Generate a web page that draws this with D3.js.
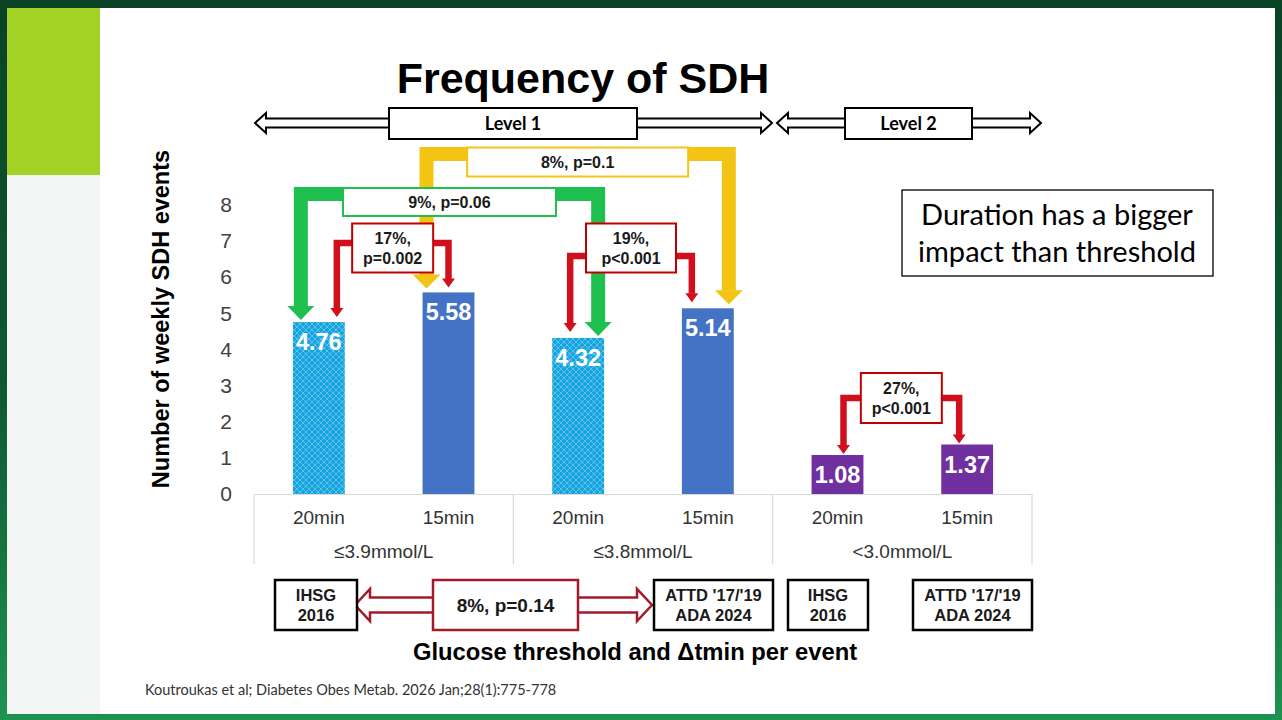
<!DOCTYPE html>
<html>
<head>
<meta charset="utf-8">
<script src="https://cdn.jsdelivr.net/npm/d3@7"></script>
<style>
  body { margin: 0; background: #fff; overflow: hidden; }
  svg { display: block; }
</style>
</head>
<body>
<svg id="chart" width="1282" height="720"></svg>
<script>
// data
var durations = ['20min', '15min', '20min', '15min', '20min', '15min'];
var thresholds = ['≤3.9mmol/L', '≤3.8mmol/L', '<3.0mmol/L'];
var sdhEvents = [4.76, 5.58, 4.32, 5.14, 1.08, 1.37];
var yTicks = [0, 1, 2, 3, 4, 5, 6, 7, 8];
var levels = ['Level 1', 'Level 2'];
var definitions = [['IHSG', '2016'], ['ATTD \'17/\'19', 'ADA 2024'], ['IHSG', '2016'], ['ATTD \'17/\'19', 'ADA 2024']];
var compareFrom = [1, 0, 0, 2, 4];
var compareTo = [3, 2, 1, 3, 5];
var compareText = [['8%, p=0.1'], ['9%, p=0.06'], ['17%,', 'p=0.002'], ['19%,', 'p<0.001'], ['27%,', 'p<0.001']];
var definitionCompare = ['8%, p=0.14'];

var W = 1282, H = 720;
var svg = d3.select('#chart');
var defs = svg.append('defs');
var sans = 'Arial, "Liberation Sans", Helvetica, sans-serif';
var calibri = 'Lato, "Open Sans", sans-serif';

// slide frame
var grad = defs.append('linearGradient').attr('id', 'frame')
    .attr('x1', 0).attr('y1', 0).attr('x2', 0).attr('y2', 1);
grad.append('stop').attr('offset', '0%').attr('stop-color', '#0a4326');
grad.append('stop').attr('offset', '55%').attr('stop-color', '#0f5a31');
grad.append('stop').attr('offset', '100%').attr('stop-color', '#1e9250');

svg.append('rect').attr('width', W).attr('height', H).attr('fill', 'url(#frame)');
svg.append('rect').attr('x', 7).attr('y', 8).attr('width', 1268).attr('height', 706).attr('fill', '#ffffff');
svg.append('rect').attr('x', 7).attr('y', 175).attr('width', 93).attr('height', 539).attr('fill', '#f3f6f5');
svg.append('rect').attr('x', 7).attr('y', 8).attr('width', 93).attr('height', 167).attr('fill', '#a4d126');

var hatch = defs.append('pattern').attr('id', 'hatch')
    .attr('patternUnits', 'userSpaceOnUse').attr('width', 6).attr('height', 6);
hatch.append('rect').attr('width', 6).attr('height', 6).attr('fill', '#17a4de');
hatch.append('path').attr('d', 'M0,0L6,6M6,0L0,6')
    .attr('stroke', '#62c6ee').attr('stroke-width', 0.9);

// scales
var x = d3.scaleBand().domain(d3.range(sdhEvents.length))
    .range([254, 1032]).paddingInner(0.6).paddingOuter(0.3);
var group = d3.scaleBand().domain(thresholds).range([254, 1032]);
var y = d3.scaleLinear().domain([0, 8]).range([494, 205]);

function cx(i) { return x(i) + x.bandwidth() / 2; }
function barFill(i) {
    if (i >= 4) return '#7030a0';
    return durations[i] === '20min' ? 'url(#hatch)' : '#4472c4';
}

// title
svg.append('text').attr('x', 583).attr('y', 93)
    .attr('text-anchor', 'middle').attr('font-family', sans)
    .attr('font-weight', 'bold').attr('font-size', 43).attr('fill', '#000')
    .text('Frequency of SDH');

// level double arrows
function dblArrow(x0, x1, c, sh, hh, hl) {
    return 'M' + x0 + ',' + c +
        'L' + (x0 + hl) + ',' + (c - hh) + 'L' + (x0 + hl) + ',' + (c - sh) +
        'L' + (x1 - hl) + ',' + (c - sh) + 'L' + (x1 - hl) + ',' + (c - hh) +
        'L' + x1 + ',' + c +
        'L' + (x1 - hl) + ',' + (c + hh) + 'L' + (x1 - hl) + ',' + (c + sh) +
        'L' + (x0 + hl) + ',' + (c + sh) + 'L' + (x0 + hl) + ',' + (c + hh) + 'Z';
}

var levelSpan = [[255, 772, 389, 637], [777, 1041, 845, 972]];
levels.forEach(function(name, k) {
    var s = levelSpan[k];
    svg.append('path').attr('d', dblArrow(s[0], s[1], 123, 4.5, 10, 11))
        .attr('fill', '#fff').attr('stroke', '#000').attr('stroke-width', 2);
    svg.append('rect').attr('x', s[2]).attr('y', 108).attr('width', s[3] - s[2]).attr('height', 31)
        .attr('fill', '#fff').attr('stroke', '#000').attr('stroke-width', 2);
    svg.append('text').attr('x', (s[2] + s[3]) / 2).attr('y', 130)
        .attr('text-anchor', 'middle').attr('font-family', calibri)
        .attr('font-weight', 'bold').attr('font-size', 18).text(name);
});

// y axis
var yAxis = svg.append('g').attr('transform', 'translate(240,0)')
    .call(d3.axisLeft(y).tickValues(yTicks).tickSize(0).tickPadding(8));
yAxis.select('.domain').remove();
yAxis.selectAll('text').attr('font-family', sans).attr('font-size', 21).attr('fill', '#404040');

svg.append('text')
    .attr('transform', 'translate(169,319) rotate(-90)')
    .attr('text-anchor', 'middle').attr('font-family', sans)
    .attr('font-weight', 'bold').attr('font-size', 23.5).attr('fill', '#000')
    .text('Number of weekly SDH events');

// category axis
var xAxis = svg.append('g').attr('transform', 'translate(0,494)')
    .call(d3.axisBottom(x).tickFormat(function(i) { return durations[i]; }).tickSize(0).tickPadding(17));
xAxis.select('.domain').remove();
xAxis.selectAll('text').attr('font-family', sans).attr('font-size', 19).attr('fill', '#333');

svg.append('line').attr('x1', 254).attr('x2', 1032).attr('y1', 494.5).attr('y2', 494.5)
    .attr('stroke', '#d9d9d9').attr('stroke-width', 1.2);
svg.selectAll('.sep').data(thresholds.concat(['end'])).enter().append('line')
    .attr('x1', function(d, k) { return 254 + k * group.bandwidth(); })
    .attr('x2', function(d, k) { return 254 + k * group.bandwidth(); })
    .attr('y1', 494).attr('y2', 564)
    .attr('stroke', '#d9d9d9').attr('stroke-width', 1.2);
svg.selectAll('.thr').data(thresholds).enter().append('text')
    .attr('x', function(d) { return group(d) + group.bandwidth() / 2; })
    .attr('y', 558).attr('text-anchor', 'middle')
    .attr('font-family', sans).attr('font-size', 19).attr('fill', '#333')
    .text(function(d) { return d; });

// bars
svg.selectAll('.bar').data(sdhEvents).enter().append('rect')
    .attr('x', function(d, i) { return x(i); })
    .attr('y', function(d) { return y(d); })
    .attr('width', x.bandwidth())
    .attr('height', function(d) { return y(0) - y(d); })
    .attr('fill', function(d, i) { return barFill(i); });

svg.selectAll('.val').data(sdhEvents).enter().append('text')
    .attr('x', function(d, i) { return cx(i); })
    .attr('y', function(d) { return y(d) + 28; })
    .attr('text-anchor', 'middle').attr('font-family', sans)
    .attr('font-weight', 'bold').attr('font-size', 23.5).attr('fill', '#fff')
    .text(function(d) { return d.toFixed(2); });

// comparison brackets
var bracketStyle = [
    { color: '#f4c415', w: 14, hw: 28, hl: 14, level: 154, dl: -22, dr: 21, gap: 4, box: [221, 29, 8] },
    { color: '#20c050', w: 14, hw: 27, hl: 14, level: 194, dl: -18, dr: 20, gap: 2, box: [213, 28, 8] },
    { color: '#d0101c', w: 6.5, hw: 13, hl: 9, level: 243, dl: 18, dr: 0, gap: 5, box: [81, 49, 5] },
    { color: '#d0101c', w: 6.5, hw: 13, hl: 9, level: 256, dl: -8, dr: -16, gap: 6, box: [90, 49, -8] },
    { color: '#d0101c', w: 6.5, hw: 13, hl: 9, level: 398, dl: 6, dr: -8, gap: 1, box: [81, 50, 0] }
];
var boxStroke = ['#f4c415', '#20c050', '#c00000', '#c00000', '#c00000'];

var brackets = compareFrom.map(function(a, k) {
    var s = bracketStyle[k];
    var xl = cx(a) + s.dl, xr = cx(compareTo[k]) + s.dr;
    var tl = y(sdhEvents[a]) - s.gap, tr = y(sdhEvents[compareTo[k]]) - s.gap;
    return { k: k, s: s, xl: xl, xr: xr, tl: tl, tr: tr };
});

function head(px, tip, s) {
    return 'M' + (px - s.hw / 2) + ',' + (tip - s.hl) + 'L' + (px + s.hw / 2) + ',' + (tip - s.hl) +
        'L' + px + ',' + tip + 'Z';
}

brackets.forEach(function(b) {
    var g = svg.append('g');
    g.append('path')
        .attr('d', 'M' + b.xl + ',' + (b.tl - b.s.hl + 0.5) + 'L' + b.xl + ',' + b.s.level +
            'L' + b.xr + ',' + b.s.level + 'L' + b.xr + ',' + (b.tr - b.s.hl + 0.5))
        .attr('fill', 'none').attr('stroke', b.s.color).attr('stroke-width', b.s.w)
        .attr('stroke-linejoin', 'miter');
    g.append('path').attr('d', head(b.xl, b.tl, b.s)).attr('fill', b.s.color);
    g.append('path').attr('d', head(b.xr, b.tr, b.s)).attr('fill', b.s.color);

    var bw = b.s.box[0], bh = b.s.box[1];
    var mx = (b.xl + b.xr) / 2, my = b.s.level + b.s.box[2];
    g.append('rect').attr('x', mx - bw / 2).attr('y', my - bh / 2)
        .attr('width', bw).attr('height', bh)
        .attr('fill', '#fff').attr('stroke', boxStroke[b.k]).attr('stroke-width', 2);
    var lines = compareText[b.k];
    lines.forEach(function(t, j) {
        g.append('text').attr('x', mx)
            .attr('y', my + 6 + (j - (lines.length - 1) / 2) * 20)
            .attr('text-anchor', 'middle').attr('font-family', sans)
            .attr('font-weight', 'bold').attr('font-size', 16).attr('fill', '#1a1a1a')
            .text(t);
    });
});

// note box
svg.append('rect').attr('x', 902).attr('y', 190).attr('width', 311).attr('height', 86)
    .attr('fill', '#fff').attr('stroke', '#000').attr('stroke-width', 1.3);
['Duration has a bigger', 'impact than threshold'].forEach(function(t, j) {
    svg.append('text').attr('x', 1057).attr('y', 225 + j * 37)
        .attr('text-anchor', 'middle').attr('font-family', calibri)
        .attr('font-size', 29).attr('fill', '#000').text(t);
});

// definition boxes
var defBox = [[275, 357], [654, 773], [788, 868], [913, 1032]];
svg.append('path').attr('d', dblArrow(355, 652, 605, 7.5, 16, 15))
    .attr('fill', '#fff').attr('stroke', '#a11b2b').attr('stroke-width', 2.5);
svg.append('rect').attr('x', 433).attr('y', 580).attr('width', 145).attr('height', 50)
    .attr('fill', '#fff').attr('stroke', '#a11b2b').attr('stroke-width', 2.5);
svg.append('text').attr('x', 505.5).attr('y', 612)
    .attr('text-anchor', 'middle').attr('font-family', sans)
    .attr('font-weight', 'bold').attr('font-size', 19).attr('fill', '#1a1a1a')
    .text(definitionCompare[0]);

definitions.forEach(function(lines, k) {
    var b = defBox[k];
    svg.append('rect').attr('x', b[0]).attr('y', 580).attr('width', b[1] - b[0]).attr('height', 50)
        .attr('fill', '#fff').attr('stroke', '#000').attr('stroke-width', 2.5);
    lines.forEach(function(t, j) {
        svg.append('text').attr('x', (b[0] + b[1]) / 2).attr('y', 601 + j * 20)
            .attr('text-anchor', 'middle').attr('font-family', sans)
            .attr('font-weight', 'bold').attr('font-size', 16.5).attr('fill', '#1a1a1a')
            .text(t);
    });
});

svg.append('text').attr('x', 635).attr('y', 660)
    .attr('text-anchor', 'middle').attr('font-family', sans)
    .attr('font-weight', 'bold').attr('font-size', 23.8).attr('fill', '#000')
    .text('Glucose threshold and Δtmin per event');

svg.append('text').attr('x', 145).attr('y', 695)
    .attr('font-family', calibri).attr('font-size', 14.5).attr('fill', '#333')
    .text('Koutroukas et al; Diabetes Obes Metab. 2026 Jan;28(1):775-778');
</script>
</body>
</html>
